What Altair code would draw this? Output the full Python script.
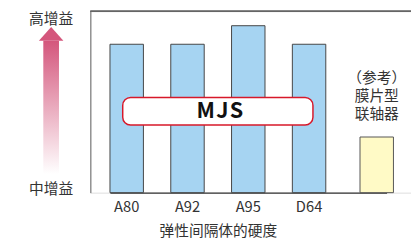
import altair as alt
import pandas as pd

categories = ["A80", "A92", "A95", "D64", "参考"]
values = [80, 80, 90, 80, 30]
groups = ["MJS", "MJS", "MJS", "MJS", "ref"]

df = pd.DataFrame({"cat": categories, "val": values, "grp": groups})
mjs = df[df.grp == "MJS"]
ref = df[df.grp == "ref"]

FONT = "Noto Sans CJK SC"
W, H = 327, 185

xscale = alt.Scale(domain=categories, paddingInner=0.45, paddingOuter=0,
                   range=[20, 302.1], round=False)
yscale = alt.Scale(domain=[0, 97.8])

x_enc = alt.X("cat:N", scale=xscale, sort=categories,
              axis=alt.Axis(title="弹性间隔体的硬度", labelAngle=0, ticks=False,
                            labelExpr="datum.value == '参考' ? '' : datum.value",
                            labelFontSize=15, labelColor="#333", labelFont=FONT,
                            labelPadding=7, domainColor="#333", domainWidth=1.5,
                            titleFont=FONT, titleFontSize=15, titleFontWeight="normal",
                            titleColor="#333", titleX=130, titleY=39,
                            titleAlign="center", titleBaseline="middle"))
y_enc = alt.Y("val:Q", scale=yscale,
              axis=alt.Axis(title=None, labels=False, ticks=False, grid=False,
                            domainColor="#666", domainWidth=1))

bars = alt.Chart(mjs).mark_bar(fill="#a6d4f2", stroke="#444", strokeWidth=1).encode(
    x=x_enc, y=y_enc)
refbar = alt.Chart(ref).mark_bar(fill="#fffac6", stroke="#555", strokeWidth=1).encode(
    x=alt.X("cat:N", scale=xscale, sort=categories), y=alt.Y("val:Q", scale=yscale),
    xOffset=alt.value(7))

reftext = alt.Chart(ref).mark_text(font=FONT, fontSize=15, color="#333", baseline="top",
                                   lineBreak="\n", lineHeight=18.5, xOffset=7).encode(
    x=alt.X("cat:N", scale=xscale, sort=categories),
    y=alt.value(61), text=alt.value("（参考）\n膜片型\n联轴器"))

top = alt.Chart(df).mark_rule(color="#666", strokeWidth=1).encode(
    x=alt.value(0), x2=alt.value(W), y=alt.value(0))

box = alt.Chart(df.head(1)).mark_rect(fill="white", stroke="#d7182a", strokeWidth=1.5,
                                      cornerRadius=8).encode(
    x=alt.value(33), x2=alt.value(227), y=alt.value(88), y2=alt.value(116))
boxtext = alt.Chart(df.head(1)).mark_text(font=FONT, fontSize=22, fontWeight="bold",
                                          color="#111", baseline="middle").encode(
    x=alt.value(132), y=alt.value(102), text=alt.value("M\u200aJ\u200aS"))

gradient = alt.LinearGradient(gradient="linear", x1=0, y1=0, x2=0, y2=1,
                              stops=[alt.GradientStop(offset=0, color="#d4567c"),
                                     alt.GradientStop(offset=1, color="#ffffff")])
shaft = alt.Chart(df.head(1)).mark_rect(fill=gradient).encode(
    x=alt.value(-48), x2=alt.value(-32), y=alt.value(30), y2=alt.value(166))
head = alt.Chart(df.head(1)).mark_point(shape="M -1 0.56 L 1 0.56 L 0 -0.56 Z", size=625,
                                        filled=True, fill="#d4567c", opacity=1,
                                        strokeWidth=0).encode(
    x=alt.value(-40), y=alt.value(23))

hi = alt.Chart(df.head(1)).mark_text(font=FONT, fontSize=15, color="#333", baseline="middle").encode(
    x=alt.value(-40), y=alt.value(8.5), text=alt.value("高增益"))
mid = alt.Chart(df.head(1)).mark_text(font=FONT, fontSize=15, color="#333", baseline="middle").encode(
    x=alt.value(-40), y=alt.value(181), text=alt.value("中增益"))

chart = alt.layer(bars, refbar, reftext, top, box, boxtext, shaft, head, hi, mid).properties(
    width=W, height=H, autosize=alt.AutoSizeParams(type="none"),
    padding={"left": 84, "top": 1, "right": 0, "bottom": 47},
).configure_view(strokeWidth=0).configure(background="white")

chart.save("out.html", embed_options={"renderer": "svg", "actions": False})
